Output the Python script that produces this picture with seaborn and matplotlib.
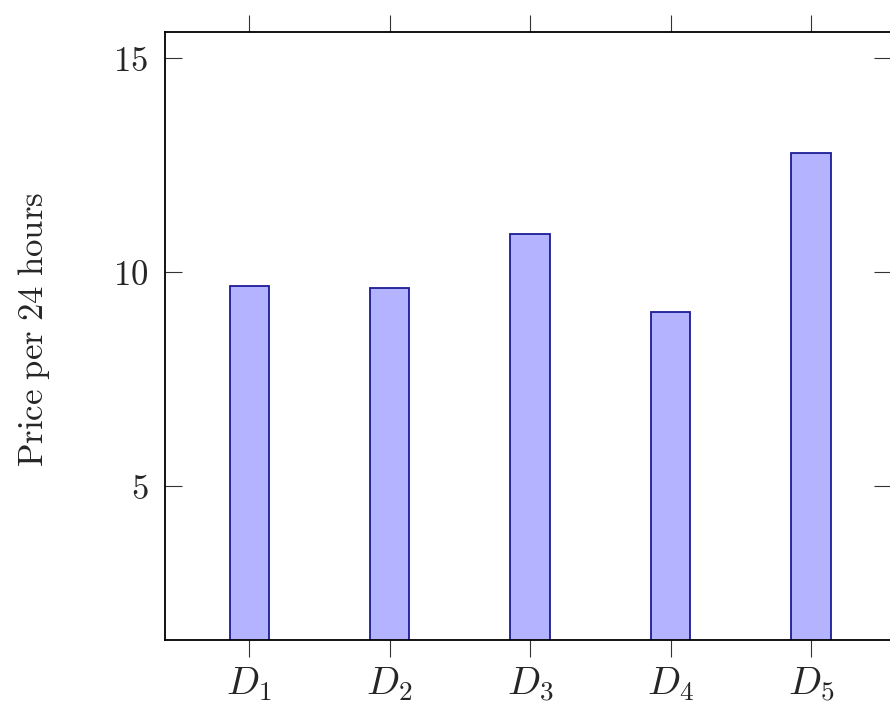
import matplotlib
matplotlib.use("Agg")
import matplotlib.pyplot as plt
import seaborn as sns

# Data
DAYS = ['$D_1$', '$D_2$', '$D_3$', '$D_4$', '$D_5$']
PRICES = [9.67, 9.63, 10.89, 9.07, 12.77]
Y_TICKS = [5, 10, 15]

FILL = '#b3b3ff'
EDGE = '#1c1c96'

sns.set_style('white')
plt.rcParams['mathtext.fontset'] = 'cm'
plt.rcParams['font.family'] = ['DejaVu Serif']

fig = plt.figure(figsize=(8.9, 7.07), dpi=100)
ax = fig.add_axes([165 / 890, 1 - 640 / 707, 726 / 890, 608 / 707])

sns.barplot(x=DAYS, y=PRICES, ax=ax, width=0.28, color=FILL, saturation=1,
            edgecolor=EDGE, linewidth=1.3)

ax.set_xlim(-0.6, 4.57)
ax.set_ylim(1.4, 15.6)
ax.set_yticks(Y_TICKS)
ax.set_yticklabels([f'${t}$' for t in Y_TICKS])

for side in ['left', 'right', 'top', 'bottom']:
    ax.spines[side].set_visible(True)
    ax.spines[side].set_color('black')
    ax.spines[side].set_linewidth(1.3)

ax.tick_params(axis='x', direction='out', top=True, bottom=True, length=12,
               width=0.8, color='#333333', labelsize=28, pad=6)
ax.tick_params(axis='y', direction='in', left=True, right=True, length=12,
               width=0.8, color='#333333', labelsize=25, pad=12)

ax.set_ylabel(r'$\mathrm{Price\ per\ 24\ hours}$', fontsize=25, labelpad=46)
ax.yaxis.set_label_coords(-0.155, 0.51)

fig.savefig('out.png', dpi=100)
